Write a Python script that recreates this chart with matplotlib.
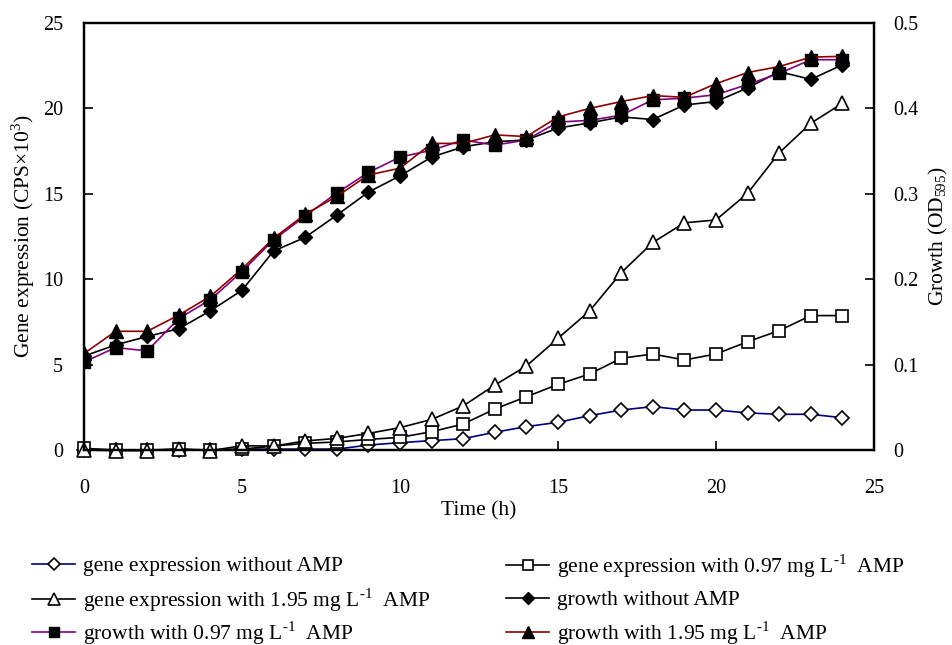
import matplotlib
matplotlib.use('Agg')
import matplotlib.pyplot as plt
import numpy as np

plt.rcParams['font.family'] = ['Liberation Serif', 'DejaVu Serif']
plt.rcParams['mathtext.fontset'] = 'custom'
plt.rcParams['mathtext.rm'] = 'Liberation Serif'

hours = list(range(25))

# gene expression (CPS x 10^3), left axis
gene_no_amp = [0.0, 0.0, 0.0, 0.0, 0.0, 0.05, 0.05, 0.05, 0.05, 0.29, 0.43, 0.55, 0.66,
               1.04, 1.37, 1.62, 2.01, 2.34, 2.54, 2.34, 2.34, 2.17, 2.09, 2.09, 1.89]
gene_097 = [0.1, 0.0, 0.0, 0.05, 0.0, 0.05, 0.23, 0.39, 0.47, 0.62, 0.74, 1.07, 1.52,
            2.4, 3.12, 3.84, 4.45, 5.37, 5.62, 5.27, 5.62, 6.34, 6.99, 7.87, 7.87]
gene_195 = [0.0, -0.04, -0.04, 0.06, -0.04, 0.25, 0.23, 0.53, 0.68, 0.97, 1.31, 1.79, 2.58,
            3.8, 4.92, 6.54, 8.14, 10.38, 12.15, 13.3, 13.47, 15.03, 17.4, 19.13, 20.3]

# growth (OD595), right axis
growth_no_amp = [0.110, 0.123, 0.133, 0.142, 0.163, 0.187, 0.233, 0.249, 0.275, 0.302, 0.321,
                 0.343, 0.355, 0.361, 0.363, 0.377, 0.383, 0.390, 0.387, 0.404, 0.408,
                 0.424, 0.443, 0.434, 0.451]
growth_097 = [0.103, 0.120, 0.116, 0.154, 0.176, 0.209, 0.246, 0.274, 0.301, 0.325, 0.343,
              0.351, 0.363, 0.357, 0.363, 0.384, 0.386, 0.392, 0.410, 0.412, 0.416,
              0.428, 0.441, 0.457, 0.457]
growth_195 = [0.113, 0.139, 0.139, 0.158, 0.180, 0.212, 0.248, 0.276, 0.297, 0.322, 0.330,
              0.359, 0.359, 0.369, 0.367, 0.390, 0.400, 0.408, 0.415, 0.413, 0.429,
              0.442, 0.449, 0.460, 0.461]

L = r'L$^{\text{-1}}$'
labels = ['gene expression without AMP',
          'gene expression with 0.97 mg ' + L + '  AMP',
          'gene expression with 1.95 mg ' + L + '  AMP',
          'growth without AMP',
          'growth with 0.97 mg ' + L + '  AMP',
          'growth with 1.95 mg ' + L + '  AMP']

fig = plt.figure(figsize=(9.52, 6.45), dpi=100)
ax = fig.add_axes([84 / 952, 1 - 450 / 645, 790 / 952, 427 / 645])
ax2 = ax.twinx()

h = []
h += ax.plot(hours, gene_no_amp, color='#000080', lw=1.2, marker='D', ms=7.5,
             mfc='white', mec='black', mew=1.2, clip_on=False)
h += ax.plot(hours, gene_097, color='black', lw=1.2, marker='s', ms=8,
             mfc='white', mec='black', mew=1.2, clip_on=False)
h += ax.plot(hours, gene_195, color='black', lw=1.2, marker='^', ms=9.5,
             mfc='white', mec='black', mew=1.2, clip_on=False)
h += ax2.plot(hours, growth_no_amp, color='black', lw=1.2, marker='D', ms=7.5,
              mfc='black', mec='black')
h += ax2.plot(hours, growth_097, color='#800080', lw=1.2, marker='s', ms=8.5,
              mfc='black', mec='black')
h += ax2.plot(hours, growth_195, color='#8B0000', lw=1.2, marker='^', ms=10,
              mfc='black', mec='black')

ax.set_xlim(0, 25)
ax.set_ylim(0, 25)
ax2.set_ylim(0, 0.5)
ax.set_xticks([0, 5, 10, 15, 20, 25])
ax.set_yticks([0, 5, 10, 15, 20, 25])
ax2.set_yticks([0, 0.1, 0.2, 0.3, 0.4, 0.5])
ax2.set_yticklabels(['0', '0.1', '0.2', '0.3', '0.4', '0.5'])

for a in (ax, ax2):
    a.tick_params(direction='in', length=6.5, width=1.2, labelsize=14.5)
    for s in a.spines.values():
        s.set_linewidth(1.6)
ax.tick_params(axis='x', pad=21)
ax.tick_params(axis='y', pad=15)
ax2.tick_params(axis='y', pad=14)

ax.set_xlabel('Time (h)', fontsize=15.5, labelpad=2)
ax.set_ylabel(r'Gene expression (CPS$\times$10$^{\mathregular{3}}$)', fontsize=15.5, labelpad=4)
ax2.set_ylabel(r'Growth (OD$_{\mathregular{595}}$)', fontsize=15.5, labelpad=6)

# one legend entry per slot so that rows line up across the two columns
col_x = [32 / 952, 506 / 952]
row_y = [566 / 645, 600 / 645, 633 / 645]
for i in range(6):
    fig.legend([h[i]], [labels[i]], loc='center left',
               bbox_to_anchor=(col_x[i % 2], 1 - row_y[i // 2]),
               frameon=False, fontsize=15.5, handlelength=2.0, handletextpad=0.35,
               borderpad=0, borderaxespad=0, markerscale=0.85)

fig.savefig('out.png', dpi=100)
